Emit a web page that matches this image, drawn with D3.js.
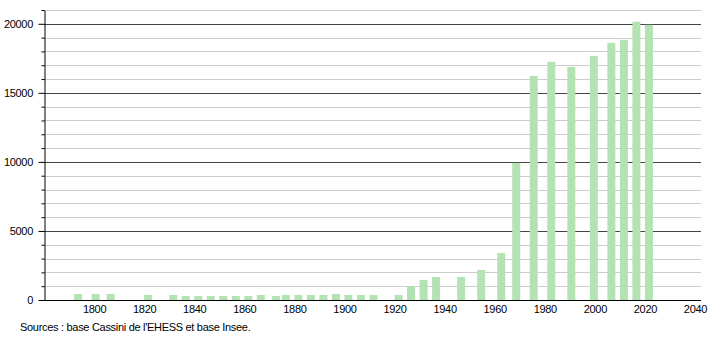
<!DOCTYPE html>
<html>
<head>
<meta charset="utf-8">
<script src="https://cdn.jsdelivr.net/npm/d3@7"></script>
<style>
  body { margin: 0; background: #fff; }
  svg { display: block; font-family: "Liberation Sans", Arial, sans-serif; }
  text { letter-spacing: -0.3px; }
</style>
</head>
<body>
<svg id="canvas"></svg>
<script>
"use strict";

// census years and population
const years = [1793, 1800, 1806, 1821, 1831, 1836, 1841, 1846, 1851, 1856, 1861, 1866,
  1872, 1876, 1881, 1886, 1891, 1896, 1901, 1906, 1911, 1921, 1926, 1931, 1936, 1946,
  1954, 1962, 1968, 1975, 1982, 1990, 1999, 2006, 2011, 2016, 2021];
const population = [435, 435, 435, 362, 362, 290, 290, 290, 290, 290, 290, 362,
  290, 362, 362, 362, 362, 435, 362, 362, 362, 362, 1014, 1450, 1667, 1667,
  2174, 3406, 9930, 16230, 17250, 16880, 17680, 18620, 18840, 20150, 19930];
const xTicks = [1800, 1820, 1840, 1860, 1880, 1900, 1920, 1940, 1960, 1980, 2000, 2020, 2040];
const yLabels = [0, 5000, 10000, 15000, 20000];
const sourceText = "Sources : base Cassini de l'EHESS et base Insee.";

const width = 710;
const height = 340;
const padLeft = 44, padRight = 701, padTop = 10, padBottom = 300;
const barW = 8;

const values = years.map((y, i) => ({ year: y, pop: population[i] }));

let canvas = d3.select('#canvas')
  .attr('width', width)
  .attr('height', height);

let xScale = d3.scaleLinear().domain([1780, 2040]).range([padLeft, 695]);
let yScale = d3.scaleLinear().domain([0, 21000]).range([padBottom, padTop]);

// grid lines every 1000, darker every 5000
const gridVals = d3.range(1000, 21001, 1000);
canvas.append('g')
  .selectAll('line')
  .data(gridVals)
  .enter()
  .append('line')
  .attr('x1', padLeft)
  .attr('x2', padRight)
  .attr('y1', d => Math.round(yScale(d)) + 0.5)
  .attr('y2', d => Math.round(yScale(d)) + 0.5)
  .attr('stroke', d => d % 5000 === 0 ? '#444' : '#ccc')
  .attr('stroke-width', 1);

canvas.append('g')
  .selectAll('rect')
  .data(values)
  .enter()
  .append('rect')
  .attr('x', d => xScale(d.year) - barW / 2 + 1.5)
  .attr('width', barW)
  .attr('y', d => yScale(d.pop))
  .attr('height', d => yScale(0) - yScale(d.pop))
  .attr('fill', '#b3e3b3');

// y axis: ticks every 1000, labels every 5000
let yAxis = d3.axisLeft(yScale)
  .tickValues(gridVals.concat([0]))
  .tickSize(0)
  .tickFormat('');
canvas.append('g')
  .attr('transform', 'translate(' + (padLeft + 0.5) + ',0)')
  .call(yAxis)
  .call(g => g.select('.domain').attr('stroke', '#000'))
  .call(g => g.selectAll('.tick line')
    .attr('x2', d => d % 5000 === 0 ? -6 : -3)
    .attr('stroke', '#000'));

canvas.append('g')
  .selectAll('text')
  .data(yLabels)
  .enter()
  .append('text')
  .attr('x', 33)
  .attr('y', d => yScale(d) + 4)
  .attr('text-anchor', 'end')
  .attr('font-size', 11)
  .attr('fill', '#000')
  .text(d => d);

// x axis
let xAxis = d3.axisBottom(xScale)
  .tickValues(xTicks)
  .tickSize(0)
  .tickPadding(5)
  .tickFormat(d3.format('d'));
canvas.append('g')
  .attr('transform', 'translate(0,' + (padBottom + 0.5) + ')')
  .call(xAxis)
  .call(g => g.select('.domain').attr('d', 'M' + padLeft + ',0H' + padRight).attr('stroke', '#000'))
  .call(g => g.selectAll('text').attr('font-size', 11).attr('fill', '#000')
    .attr('font-family', '"Liberation Sans", Arial, sans-serif'));

canvas.append('text')
  .attr('x', 20)
  .attr('y', 331)
  .attr('font-size', 11)
  .attr('fill', '#000')
  .text(sourceText);
</script>
</body>
</html>
